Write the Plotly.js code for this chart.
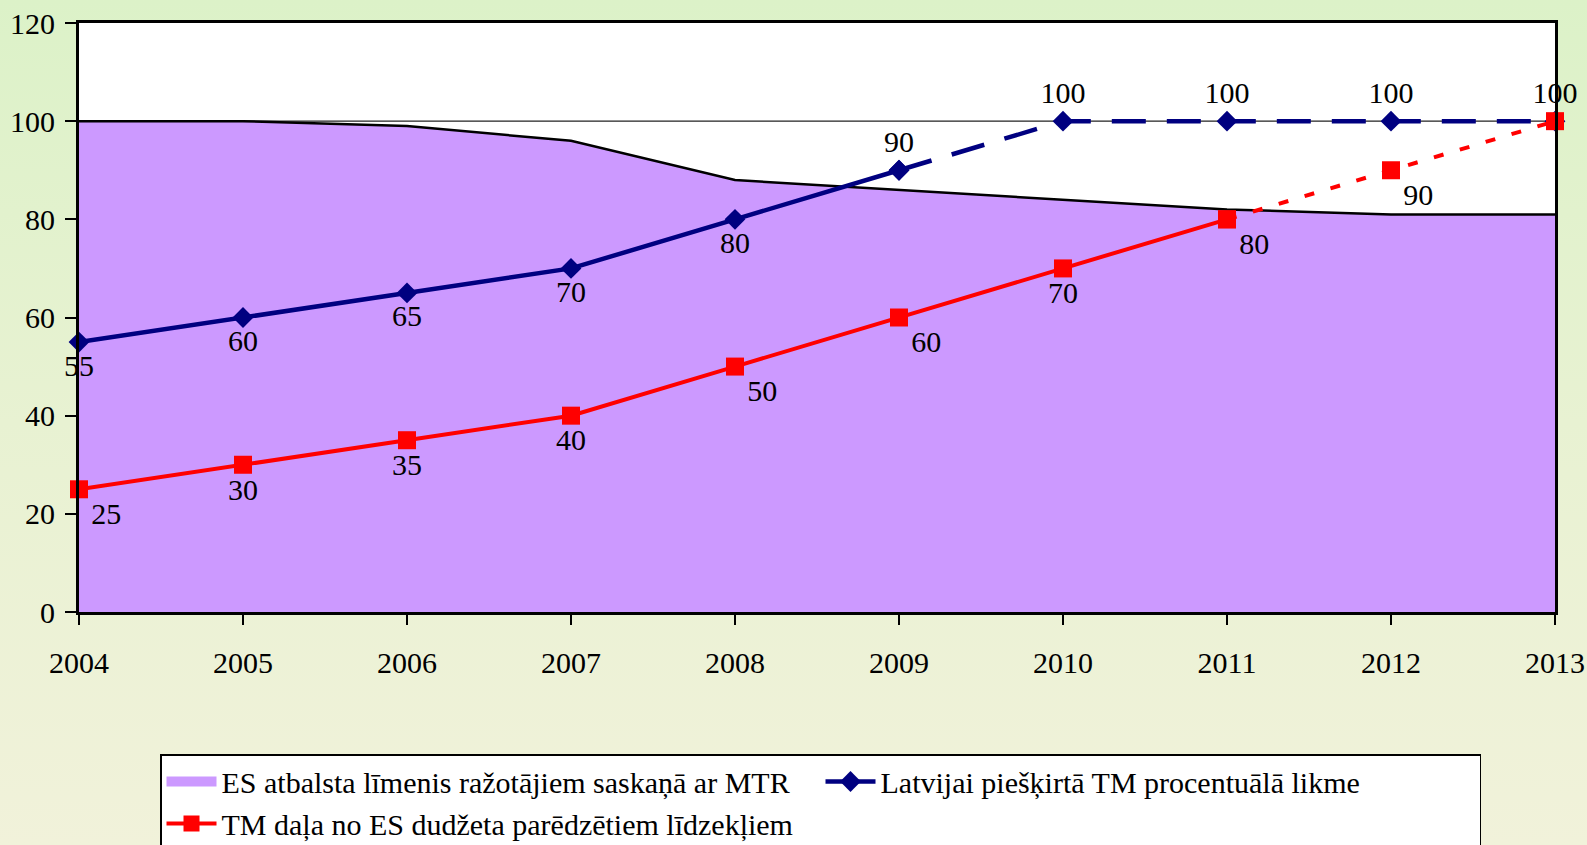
<!DOCTYPE html>
<html>
<head>
<meta charset="utf-8">
<script src="https://cdn.plot.ly/plotly-3.0.1.min.js"></script>
<style>
  html, body { margin: 0; padding: 0; }
  body { width: 1587px; height: 845px; background: linear-gradient(to bottom, #dcf2c8 0%, #e8f2d2 50%, #f1f2da 100%); }
  #chart { width: 1587px; height: 845px; }
</style>
</head>
<body>
<div id="chart"></div>
<script>
// ---- data ----
const years = [2004, 2005, 2006, 2007, 2008, 2009, 2010, 2011, 2012, 2013];
const esSupportLevel = [100, 100, 99, 96, 88, 86, 84, 82, 81, 81];
const latviaRate = [55, 60, 65, 70, 80, 90, 100, 100, 100, 100];
const tmShare = [25, 30, 35, 40, 50, 60, 70, 80, 90, 100];
const latviaLastActualYear = 2009;
const tmLastActualYear = 2011;
const seriesNames = [
  'ES atbalsta līmenis ražotājiem saskaņā ar MTR',
  'Latvijai piešķirtā TM procentuālā likme',
  'TM daļa no ES dudžeta parēdzētiem līdzekļiem'
];
const referenceLevel = 100;

// ---- build ----
const FONT = '"Liberation Serif", serif';
const FS = 30;
const labelFont = {family: FONT, size: FS, color: '#000'};
const blue = '#000080';
const red = '#ff0000';
const lavender = '#cc99ff';

function split(xs, ys, lastYear) {
  const k = xs.indexOf(lastYear);
  return {
    ax: xs.slice(0, k + 1), ay: ys.slice(0, k + 1),
    bx: xs.slice(k), by: ys.slice(k)
  };
}
const lv = split(years, latviaRate, latviaLastActualYear);
const tm = split(years, tmShare, tmLastActualYear);

// label placement
const lvPos = years.map(y => y <= 2008 ? 'bottom center' : 'top center');
const tmPos = years.map((y, i) => (i === 0 || y === 2008 || y === 2009 || y === 2011 || y === 2012) ? 'bottom right' : 'bottom center');

const traces = [
  {
    x: years, y: esSupportLevel, name: seriesNames[0], type: 'scatter', mode: 'lines',
    fill: 'tozeroy', fillcolor: lavender, line: {color: '#000', width: 2.5},
    hoverinfo: 'x+y', showlegend: false, legendgroup: 'es'
  },
  {
    // legend entry for the area series (swatch)
    x: [null], y: [null], name: seriesNames[0], type: 'scatter', mode: 'lines',
    line: {color: lavender, width: 18}, legendgroup: 'es', showlegend: true
  },
  {
    x: lv.ax, y: lv.ay, name: seriesNames[1], type: 'scatter', mode: 'lines+markers+text',
    line: {color: blue, width: 4.5}, marker: {symbol: 'diamond', size: 16, color: blue},
    text: lv.ay.map(String), textposition: lvPos.slice(0, lv.ax.length),
    textfont: labelFont, cliponaxis: false, legendgroup: 'lv'
  },
  {
    x: lv.bx, y: lv.by, name: seriesNames[1], type: 'scatter', mode: 'lines+markers+text',
    line: {color: blue, width: 4.5, dash: '34px,21px'}, marker: {symbol: 'diamond', size: 16, color: blue},
    text: lv.by.map((v, i) => i === 0 ? '' : String(v)), textposition: lvPos.slice(lv.ax.length - 1),
    textfont: labelFont, cliponaxis: false, showlegend: false, legendgroup: 'lv'
  },
  {
    x: tm.ax, y: tm.ay, name: seriesNames[2], type: 'scatter', mode: 'lines+markers+text',
    line: {color: red, width: 4}, marker: {symbol: 'square', size: 18, color: red},
    text: tm.ay.map(String), textposition: tmPos.slice(0, tm.ax.length),
    textfont: labelFont, cliponaxis: false, legendgroup: 'tm'
  },
  {
    x: tm.bx, y: tm.by, name: seriesNames[2], type: 'scatter', mode: 'lines+markers+text',
    line: {color: red, width: 4, dash: '10px,17px'}, marker: {symbol: 'square', size: 18, color: red},
    text: tm.by.map((v, i) => (i === 0 || i === tm.by.length - 1) ? '' : String(v)),
    textposition: tmPos.slice(tm.ax.length - 1),
    textfont: labelFont, cliponaxis: false, showlegend: false, legendgroup: 'tm'
  }
];

const layout = {
  width: 1587, height: 845,
  paper_bgcolor: 'rgba(0,0,0,0)', plot_bgcolor: '#ffffff',
  margin: {l: 79, r: 32, t: 23, b: 233},
  font: {family: FONT, size: FS, color: '#000'},
  showlegend: true,
  xaxis: {
    range: [2004, 2013], tickmode: 'array', tickvals: years, ticktext: years.map(String),
    showgrid: false, zeroline: false, showline: true, linecolor: '#000', linewidth: 3, mirror: true,
    ticks: 'outside', ticklen: 10, tickwidth: 2, tickcolor: '#000',
    tickfont: {family: FONT, size: FS, color: '#000'}, ticklabelstandoff: 12
  },
  yaxis: {
    range: [0, 120], tickvals: [0, 20, 40, 60, 80, 100, 120],
    showgrid: false, zeroline: false, showline: true, linecolor: '#000', linewidth: 3, mirror: true,
    ticks: 'outside', ticklen: 11, tickwidth: 2, tickcolor: '#000',
    tickfont: {family: FONT, size: FS, color: '#000'}, ticklabelstandoff: 4
  },
  shapes: [{
    type: 'line', xref: 'x', yref: 'y', x0: years[0], x1: years[years.length - 1],
    y0: referenceLevel, y1: referenceLevel, line: {color: '#222', width: 1.2}, layer: 'below'
  }],
  legend: {
    orientation: 'h', xref: 'container', yref: 'container',
    x: 160 / 1587, y: 1 - 754 / 845, xanchor: 'left', yanchor: 'top',
    bgcolor: '#ffffff', bordercolor: '#000', borderwidth: 1.5,
    font: {family: FONT, size: FS, color: '#000'},
    itemwidth: 50, entrywidth: 594, traceorder: 'normal', tracegroupgap: 0
  }
};

Plotly.newPlot('chart', traces, layout, {displayModeBar: false, staticPlot: true});
</script>
</body>
</html>
